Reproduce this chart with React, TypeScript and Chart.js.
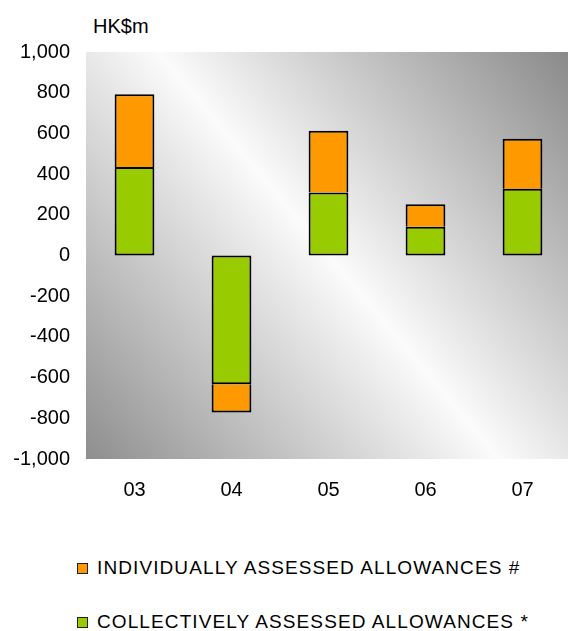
import React, { useEffect, useRef } from "react";
import { Chart, registerables } from "chart.js";

Chart.register(...registerables);

const categories = ["03", "04", "05", "06", "07"];
const collectively = [435, -633, 310, 141, 328];
const individually = [357, -139, 303, 111, 246];
const yTicks = [-1000, -800, -600, -400, -200, 0, 200, 400, 600, 800, 1000];
const unitLabel = "HK$m";
const legendIndividually = "INDIVIDUALLY ASSESSED ALLOWANCES #";
const legendCollectively = "COLLECTIVELY ASSESSED ALLOWANCES *";

const ORANGE = "#FF9900";
const GREEN = "#99CC00";
const FONT = "'Liberation Sans', Arial, sans-serif";

const bgPlugin = {
  id: "plotBg",
  beforeDraw(chart: any) {
    const { ctx, chartArea } = chart;
    const { left, right, top, bottom } = chartArea;
    const g = ctx.createLinearGradient(left, bottom, right, top);
    g.addColorStop(0, "#8e8e8e");
    g.addColorStop(0.5, "#fbfbfb");
    g.addColorStop(1, "#898989");
    ctx.save();
    ctx.fillStyle = g;
    ctx.fillRect(left, top, right - left, bottom - top);
    ctx.restore();
  },
};

export default function App() {
  const ref = useRef<HTMLCanvasElement>(null);
  useEffect(() => {
    if (!ref.current) return;
    const chart = new Chart(ref.current, {
      type: "bar",
      data: {
        labels: categories,
        datasets: [
          {
            label: legendCollectively,
            data: collectively,
            backgroundColor: GREEN,
            borderColor: "#000",
            borderWidth: 2,
            borderSkipped: false,
            categoryPercentage: 1,
            barPercentage: 0.41,
          },
          {
            label: legendIndividually,
            data: individually,
            backgroundColor: ORANGE,
            borderColor: "#000",
            borderWidth: 2,
            borderSkipped: "start",
            categoryPercentage: 1,
            barPercentage: 0.41,
          },
        ],
      },
      options: {
        responsive: false,
        animation: false,
        layout: { padding: { top: 52, right: 9, left: 0, bottom: 0 } },
        plugins: {
          legend: { display: false },
          tooltip: { enabled: false },
        },
        scales: {
          x: {
            stacked: true,
            grid: { display: false },
            border: { display: false },
            ticks: {
              color: "#000",
              padding: 11,
              font: { family: FONT, size: 20 },
            },
            afterFit(scale: any) {
              scale.height = 61;
            },
          },
          y: {
            stacked: true,
            min: -1000,
            max: 1000,
            grid: { display: false },
            border: { display: false },
            afterBuildTicks(scale: any) {
              scale.ticks = yTicks.map((v) => ({ value: v }));
            },
            ticks: {
              color: "#000",
              padding: 8,
              font: { family: FONT, size: 20 },
              callback: (v: any) => Number(v).toLocaleString("en-US"),
            },
            afterFit(scale: any) {
              scale.width = 86;
            },
          },
        },
      },
      plugins: [bgPlugin],
    });
    return () => chart.destroy();
  }, []);

  const legendRow = (color: string, text: string, top: number) => (
    <div
      style={{
        position: "absolute",
        left: 77,
        top,
        height: 22,
        display: "flex",
        alignItems: "center",
        whiteSpace: "nowrap",
      }}
    >
      <div
        style={{
          width: 9,
          height: 9,
          background: color,
          border: "1px solid #222",
          marginRight: 9,
        }}
      />
      <span style={{ fontFamily: FONT, fontSize: 19, lineHeight: "22px", color: "#000", letterSpacing: 1.1 }}>{text}</span>
    </div>
  );

  return (
    <div
      style={{
        position: "fixed",
        left: 0,
        top: 0,
        width: 580,
        height: 631,
        overflow: "hidden",
        background: "#fff",
      }}
    >
      <div
        style={{
          position: "absolute",
          left: 93,
          top: 15,
          fontFamily: FONT,
          fontSize: 20,
          lineHeight: "22px",
          color: "#000",
        }}
      >
        {unitLabel}
      </div>
      <canvas ref={ref} width={580} height={520} style={{ position: "absolute", left: 0, top: 0, width: 580, height: 520 }} />
      {legendRow(ORANGE, legendIndividually, 557)}
      {legendRow(GREEN, legendCollectively, 611)}
    </div>
  );
}
